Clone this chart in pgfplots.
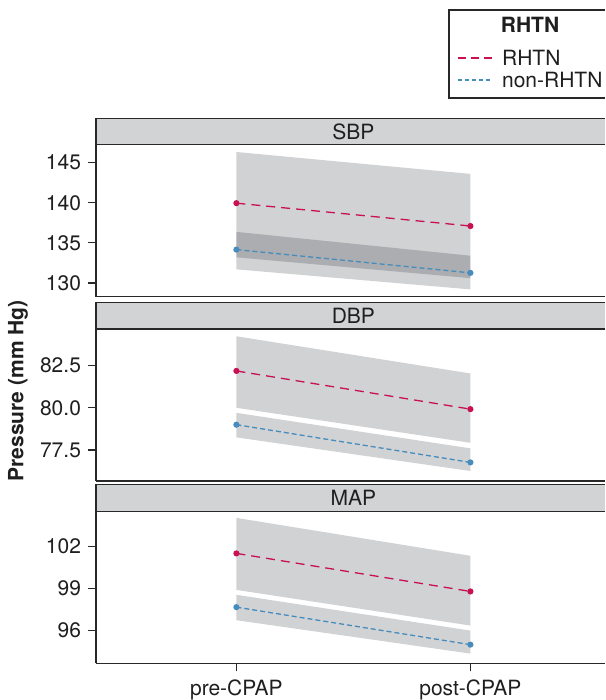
\documentclass[border=0pt]{standalone}
\usepackage{fontspec}
\setmainfont{TeX Gyre Heros}
\usepackage{pgfplots}
\pgfplotsset{compat=1.18}

\definecolor{rhtn}{RGB}{200,16,82}
\definecolor{nonrhtn}{RGB}{70,140,188}
\definecolor{bandcol}{RGB}{0,5,16}
\definecolor{stripcol}{RGB}{210,211,213}
\definecolor{frame}{RGB}{40,40,40}
\newcommand{\fs}{\fontsize{10.5}{12.6}\selectfont}

% panels end at the right edge of the page (the reference is cropped there)
\pgfplotsset{
  panel/.style={
    scale only axis, width=254.5pt, height=76pt,
    xmin=0.4, xmax=2.5752, anchor=south west, clip=false,
    axis x line*=box, axis y line*=left,
    axis line style={frame, line width=0.6pt, -},
    tick align=outside, xtick pos=left, ytick pos=left, major tick length=4pt,
    every tick/.style={frame, line width=0.6pt},
    tick label style={font=\fs, text=black!88},
    xticklabel style={inner ysep=0pt, yshift=-4pt},
    /pgf/number format/assume math mode=true,
    xtick=\empty,
  },
  band/.style={fill=bandcol, fill opacity=0.18, draw=none},
  rh/.style={rhtn, line width=0.65pt, dash pattern=on 4.5pt off 3pt,
    mark=*, mark size=1.2pt, mark options={solid}},
  nr/.style={nonrhtn, line width=0.65pt, dash pattern=on 2.5pt off 1.5pt,
    mark=*, mark size=1.2pt, mark options={solid}},
}
\newcommand{\facetstrip}[1]{%
  \fill[stripcol] (rel axis cs:0,1) rectangle ([yshift=13.2pt]rel axis cs:1,1);
  \draw[frame, line width=0.6pt] (rel axis cs:1,1) -- (rel axis cs:0,1)
    -- ([yshift=13.2pt]rel axis cs:0,1) -- ([yshift=13.2pt]rel axis cs:1,1);
  \node[font=\fs, text=black!88] at ([yshift=6.6pt]rel axis cs:0.5057,1) {#1};}

\begin{document}
\begin{tikzpicture}
  \path (0,0) (0,350pt);

  % SBP
  \begin{axis}[panel, at={(48pt,201.65pt)},
      ymin=128.29, ymax=147.24, ytick={130,135,140,145},
      yticklabels={130,135,140,145}]
    \addplot[band] coordinates {(1,146.33)(2,143.6)(2,129.2)(1,131.7)} -- cycle;
    \addplot[band] coordinates {(1,136.37)(2,133.4)(2,130.6)(1,133.2)} -- cycle;
    \addplot[rh] coordinates {(1,139.95)(2,137.1)};
    \addplot[nr] coordinates {(1,134.16)(2,131.26)};
    \facetstrip{SBP}
  \end{axis}

  % DBP
  \begin{axis}[panel, at={(48pt,109.5pt)},
      ymin=75.67, ymax=84.66, ytick={77.5,80,82.5},
      yticklabels={77.5,80.0,82.5}]
    \addplot[band] coordinates {(1,84.23)(2,82.03)(2,77.93)(1,80.0)} -- cycle;
    \addplot[band] coordinates {(1,79.7)(2,77.6)(2,76.26)(1,78.25)} -- cycle;
    \addplot[rh] coordinates {(1,82.18)(2,79.92)};
    \addplot[nr] coordinates {(1,79.0)(2,76.77)};
    \facetstrip{DBP}
  \end{axis}

  % MAP
  \begin{axis}[panel, at={(48pt,18.35pt)},
      ymin=93.67, ymax=104.5, ytick={96,99,102},
      yticklabels={96,99,102},
      xtick={1,2}, xticklabels={pre-CPAP,post-CPAP}]
    \addplot[band] coordinates {(1,104.03)(2,101.33)(2,96.36)(1,98.9)} -- cycle;
    \addplot[band] coordinates {(1,98.55)(2,96.0)(2,94.36)(1,96.74)} -- cycle;
    \addplot[rh] coordinates {(1,101.5)(2,98.79)};
    \addplot[nr] coordinates {(1,97.67)(2,95.0)};
    \facetstrip{MAP}
  \end{axis}

  % y label
  \node[rotate=90, font=\fs\bfseries, text=black!88] at (9pt,154.5pt) {Pressure (mm Hg)};

  % legend (its right side is cut off by the page edge, as in the reference)
  \fill[white] (224.5pt,301pt) rectangle (302.5pt,345pt);
  \draw[frame, line width=0.6pt] (302.5pt,301pt) -- (224.5pt,301pt)
    -- (224.5pt,345pt) -- (302.5pt,345pt);
  \node[font=\fs\bfseries, text=black!88] at (265pt,337.5pt) {RHTN};
  \draw[rhtn, line width=0.65pt, dash pattern=on 4pt off 2.5pt] (229pt,321pt) -- (246.5pt,321pt);
  \node[font=\fs, text=black!88, anchor=west, inner sep=0pt] at (250.85pt,321pt) {RHTN};
  \draw[nonrhtn, line width=0.65pt, dash pattern=on 2pt off 1.5pt] (229pt,310pt) -- (246.5pt,310pt);
  \node[font=\fs, text=black!88, anchor=west, inner sep=0pt] at (250.85pt,310pt) {non-RHTN};
\end{tikzpicture}
\end{document}
